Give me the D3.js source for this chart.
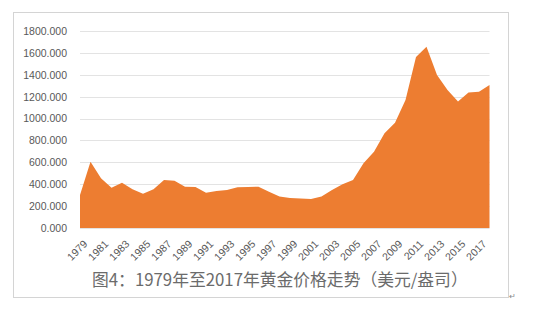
<!DOCTYPE html>
<html>
<head>
<meta charset="utf-8">
<script src="https://cdn.jsdelivr.net/npm/d3@7"></script>
<style>
  html, body { margin: 0; padding: 0; background: #fff; }
  svg { display: block; }
</style>
</head>
<body>
<svg id="chart" width="550" height="311"></svg>
<script>
  //============================================================
  // Data
  //------------------------------------------------------------

  var years = d3.range(1979, 2019)
    , prices = [301, 605, 454, 368, 414, 353, 313, 354, 439, 432,
                378, 374, 323, 338, 347, 372, 375, 378, 332, 288,
                273, 270, 264, 288, 347, 399, 439, 591, 697, 865,
                962, 1170, 1563, 1657, 1398, 1261, 1156, 1237, 1246, 1307]
    , yTicks = [0, 200, 400, 600, 800, 1000, 1200, 1400, 1600, 1800]
    , xLabels = d3.range(1979, 2018, 2)
    , caption = '图4：1979年至2017年黄金价格走势（美元/盎司）'
    ;

  //============================================================
  // Layout
  //------------------------------------------------------------

  var svg = d3.select('#chart')
    , color = '#ed7d31'
    , textColor = '#595959'
    , font = '"Liberation Sans", Arial, sans-serif'
    ;

  var x = d3.scalePoint().domain(years).range([80, 489.5]);
  var y = d3.scaleLinear().domain([0, 1800]).range([228, 31]);

  // outer frame
  svg.append('rect')
      .attr('x', 13.5).attr('y', 12.5)
      .attr('width', 495).attr('height', 285)
      .attr('fill', 'none')
      .attr('stroke', '#d4d4d4')
      .attr('stroke-width', 1);

  // gridlines
  svg.append('g').selectAll('line')
      .data(yTicks)
    .enter().append('line')
      .attr('x1', 80).attr('x2', 489.5)
      .attr('y1', function (d) { return Math.round(y(d)) + 0.5; })
      .attr('y2', function (d) { return Math.round(y(d)) + 0.5; })
      .attr('stroke', '#e3e3e3')
      .attr('stroke-width', 1);

  // area
  var area = d3.area()
      .x(function (d, i) { return x(years[i]); })
      .y0(y(0))
      .y1(function (d) { return y(d); });

  svg.append('path')
      .datum(prices)
      .attr('d', area)
      .attr('fill', color);

  // y axis labels
  var yAxis = d3.axisLeft(y)
      .tickValues(yTicks)
      .tickSize(0)
      .tickPadding(0)
      .tickFormat(d3.format('.3f'));

  var gy = svg.append('g')
      .attr('transform', 'translate(67,0)')
      .call(yAxis);
  gy.select('.domain').remove();
  gy.selectAll('text')
      .attr('fill', textColor)
      .style('font-family', font)
      .style('font-size', '10.5px');

  // x axis labels (rotated)
  var xAxis = d3.axisBottom(x)
      .tickValues(xLabels)
      .tickSize(0)
      .tickFormat(d3.format('d'));

  var gx = svg.append('g')
      .attr('transform', 'translate(0,' + y(0) + ')')
      .call(xAxis);
  gx.select('.domain').remove();
  gx.selectAll('text')
      .attr('fill', textColor)
      .style('font-family', font)
      .style('font-size', '10.5px')
      .attr('text-anchor', 'end')
      .attr('dy', '0.35em')
      .attr('y', 0)
      .attr('transform', 'translate(5,14) rotate(-45)');

  // caption
  svg.append('text')
      .attr('x', 92)
      .attr('y', 286)
      .attr('fill', '#6b6b6b')
      .style('font-family', '"Noto Sans CJK SC", sans-serif')
      .style('font-size', '16.8px')
      .text(caption);

  // paragraph mark
  svg.append('text')
      .attr('x', 509)
      .attr('y', 299)
      .attr('fill', '#888')
      .style('font-family', font)
      .style('font-size', '8px')
      .text('↵');
</script>
</body>
</html>
